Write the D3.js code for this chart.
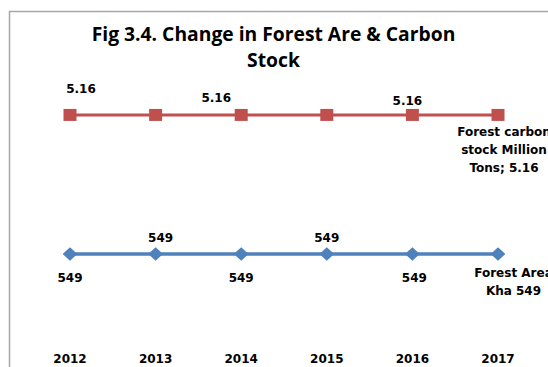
<!DOCTYPE html>
<html>
<head>
<meta charset="utf-8">
<script src="https://cdn.jsdelivr.net/npm/d3@7"></script>
<style>
  html, body { margin: 0; padding: 0; background: #fff; }
  svg { display: block; }
</style>
</head>
<body>
<script>
// Forest area and carbon stock, 2012–2017
const years = ["2012", "2013", "2014", "2015", "2016", "2017"];
const forestArea = [549, 549, 549, 549, 549, 549];          // thousand ha
const carbonStock = [5.16, 5.16, 5.16, 5.16, 5.16, 5.16];   // million tons
const areaName = ["Forest Area", "Kha 549"];
const carbonName = ["Forest carbon", "stock Million", "Tons; 5.16"];
const titleLines = ["Fig 3.4. Change in Forest Are & Carbon", "Stock"];

const W = 548, H = 367;
const titleFont = "'Open Sans', sans-serif";
const labelFont = "'DejaVu Sans', sans-serif";

const svg = d3.select("body").append("svg")
  .attr("width", W).attr("height", H);

// chart frame (runs past the right and bottom edges)
svg.append("rect")
  .attr("x", 9.5).attr("y", 11.5)
  .attr("width", W + 20).attr("height", H + 20)
  .attr("fill", "#fff").attr("stroke", "#a6a6a6").attr("stroke-width", 1.5);

// title
svg.append("text")
  .attr("text-anchor", "middle")
  .style("font-family", titleFont).style("font-weight", 700).style("font-size", "19.3px")
  .attr("fill", "#000")
  .selectAll("tspan").data(titleLines).join("tspan")
  .attr("x", 273.5).attr("y", (d, i) => 41 + i * 26)
  .text(d => d);

const plotTop = 70, plotBottom = 340;
const x = d3.scalePoint().domain(years).range([70, 498]);
// primary axis for area, secondary for carbon stock (axes hidden)
const yArea = d3.scaleLinear().domain([0, 1724]).range([plotBottom, plotTop]);
const yCarbon = d3.scaleLinear().domain([0, 6.19]).range([plotBottom, plotTop]);

const labelStyle = sel => sel
  .style("font-family", labelFont).style("font-weight", 700).style("font-size", "12px")
  .attr("fill", "#000").attr("text-anchor", "middle");

// category labels
svg.append("g").selectAll("text").data(years).join("text")
  .call(labelStyle)
  .attr("x", d => x(d)).attr("y", 363)
  .text(d => d);

const lineFor = (yScale) => d3.line()
  .x((d, i) => x(years[i]))
  .y(d => yScale(d));

// carbon stock series
svg.append("path").datum(carbonStock)
  .attr("d", lineFor(yCarbon))
  .attr("fill", "none").attr("stroke", "#c0504d").attr("stroke-width", 3);
svg.append("g").selectAll("rect").data(carbonStock).join("rect")
  .attr("x", (d, i) => x(years[i]) - 6.5)
  .attr("y", d => yCarbon(d) - 6)
  .attr("width", 13).attr("height", 12)
  .attr("fill", "#c0504d");

// area series
svg.append("path").datum(forestArea)
  .attr("d", lineFor(yArea))
  .attr("fill", "none").attr("stroke", "#4f81bd").attr("stroke-width", 3.5);
const diamond = d3.symbol().type(d3.symbolDiamond2).size(115);
svg.append("g").selectAll("path").data(forestArea).join("path")
  .attr("transform", (d, i) => `translate(${x(years[i])},${yArea(d)}) scale(1.1,1)`)
  .attr("d", diamond)
  .attr("fill", "#4f81bd");

// carbon value labels (placed where they sit on the chart)
const carbonLabelPos = [
  { i: 0, dx: 11, dy: -21.5 },
  { i: 2, dx: -25, dy: -13 },
  { i: 4, dx: -5, dy: -9.5 }
];
svg.append("g").selectAll("text").data(carbonLabelPos).join("text")
  .call(labelStyle)
  .attr("x", p => x(years[p.i]) + p.dx)
  .attr("y", p => yCarbon(carbonStock[p.i]) + p.dy)
  .text(p => carbonStock[p.i].toFixed(2));

// area value labels, alternating below / above
const areaLabelPos = [
  { i: 0, dx: 0, dy: 27.5 }, { i: 1, dx: 5, dy: -12.5 }, { i: 2, dx: 0, dy: 27.5 },
  { i: 3, dx: 0, dy: -12.5 }, { i: 4, dx: 2, dy: 27.5 }
];
svg.append("g").selectAll("text").data(areaLabelPos).join("text")
  .call(labelStyle)
  .attr("x", p => x(years[p.i]) + p.dx)
  .attr("y", p => yArea(forestArea[p.i]) + p.dy)
  .text(p => forestArea[p.i]);

// series name labels at the last point
const last = years.length - 1;
svg.append("text").call(labelStyle)
  .selectAll("tspan").data(carbonName).join("tspan")
  .attr("x", x(years[last]) + 6)
  .attr("y", (d, i) => yCarbon(carbonStock[last]) + 21 + i * 18)
  .text(d => d);
svg.append("text").call(labelStyle)
  .selectAll("tspan").data(areaName).join("tspan")
  .attr("x", x(years[last]) + 15.5)
  .attr("y", (d, i) => yArea(forestArea[last]) + 22.5 + i * 18)
  .text(d => d);
</script>
</body>
</html>
